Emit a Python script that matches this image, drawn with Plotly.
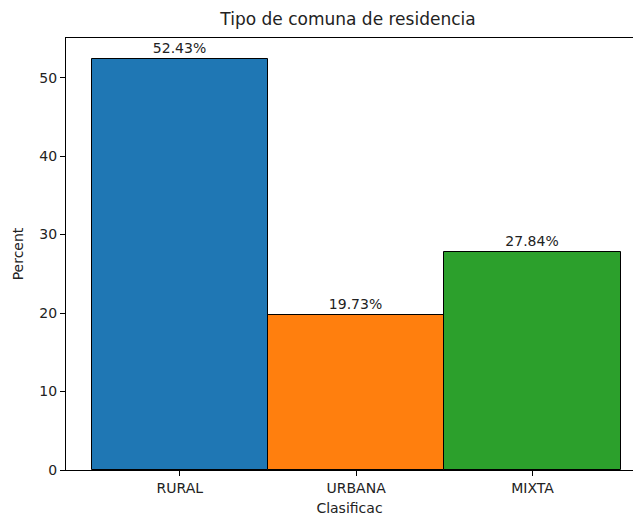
import plotly.graph_objects as go

categories = ["RURAL", "URBANA", "MIXTA"]
percent = [52.43, 19.73, 27.84]
colors = ["#1f77b4", "#ff7f0e", "#2ca02c"]
labels = [f"{v:.2f}%" for v in percent]

fig = go.Figure(go.Bar(
    x=[0, 1, 2], y=percent, width=1,
    marker=dict(color=colors, line=dict(color="black", width=1)),
    text=labels, textposition="outside", cliponaxis=False,
    textfont=dict(size=14, color="#222222"),
))

W, H = 633, 519
fig.update_layout(
    width=W, height=H,
    margin=dict(l=66, r=0, t=38, b=49),
    paper_bgcolor="white", plot_bgcolor="white",
    font=dict(family="DejaVu Sans", size=14, color="#222222"),
    title=dict(text="Tipo de comuna de residencia", x=348 / W, xanchor="center",
               y=1 - 19 / H, yanchor="middle", font=dict(size=17)),
    showlegend=False,
    bargap=0,
)
# the original chart is cropped on the right: no right spine visible
fig.update_xaxes(
    range=[-0.645, 2.57], tickvals=[0, 1, 2], ticktext=categories,
    showgrid=False, zeroline=False, showline=True, linecolor="black", linewidth=1,
    mirror=True, ticks="outside", ticklen=5, tickcolor="black",
    tickfont=dict(size=14),
    title=dict(text="Clasificac", standoff=8, font=dict(size=14)),
)
fig.update_yaxes(
    range=[0, 55.05], tickvals=[0, 10, 20, 30, 40, 50],
    showgrid=False, zeroline=False, showline=True, linecolor="black", linewidth=1,
    mirror=False, ticks="outside", ticklen=5, tickcolor="black",
    tickfont=dict(size=14),
    title=dict(text="Percent", standoff=12, font=dict(size=14)),
)
fig.write_html(
    "out.html",
    config={"displayModeBar": False},
    post_script="document.body.style.margin='0';document.body.style.overflow='hidden';",
)
